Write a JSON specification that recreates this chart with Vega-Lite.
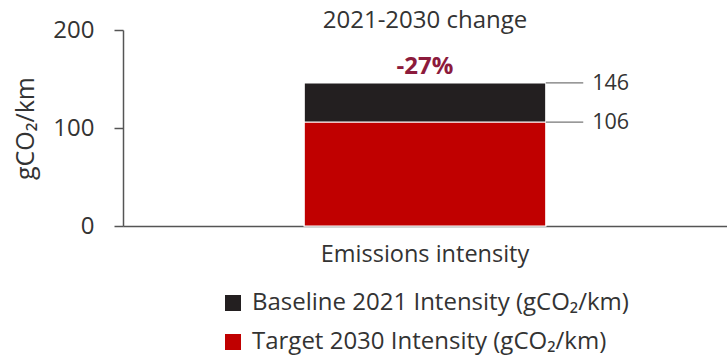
{
  "$schema": "https://vega.github.io/schema/vega-lite/v6.json",
  "width": 604,
  "height": 196,
  "autosize": {"type": "none"},
  "padding": {"left": 123, "top": 30, "right": 0, "bottom": 132},
  "background": "white",
  "config": {
    "font": "Open Sans",
    "view": {"stroke": null},
    "axis": {"grid": false, "labelColor": "#333333", "titleColor": "#333333", "labelFont": "Open Sans", "titleFont": "Open Sans"}
  },
  "title": {"text": "2021-2030 change", "fontSize": 24, "fontWeight": "normal", "color": "#333333", "anchor": "middle", "frame": "group", "offset": -15},
  "datasets": {
    "bars": [
      {"category": "Emissions intensity", "series": "Baseline 2021 Intensity (gCO₂/km)", "value": 146, "label": "146"},
      {"category": "Emissions intensity", "series": "Target 2030 Intensity (gCO₂/km)", "value": 106, "label": "106"}
    ],
    "change": [
      {"category": "Emissions intensity", "value": 146, "label": "-27%"}
    ]
  },
  "encoding": {
    "x": {
      "field": "category", "type": "nominal",
      "scale": {"paddingInner": 0, "paddingOuter": 0},
      "axis": {"title": null, "labelAngle": 0, "ticks": false, "labelFontSize": 23.5, "labelPadding": 16, "labelLimit": 400, "domainColor": "#555555", "domainWidth": 1.5}
    }
  },
  "layer": [
    {
      "data": {"name": "bars"},
      "mark": {"type": "bar", "width": {"band": 0.4}, "stroke": "white", "strokeWidth": 1.2},
      "encoding": {
        "y": {
          "field": "value", "type": "quantitative", "stack": null,
          "scale": {"domain": [0, 200]},
          "axis": {"values": [0, 100, 200], "title": "gCO₂/km", "titleFontSize": 25, "titleFontWeight": "normal", "titlePadding": 14, "labelFontSize": 24, "labelPadding": 20, "tickSize": 9, "tickColor": "#555555", "domainColor": "#555555", "domainWidth": 1.5, "tickWidth": 1.5}
        },
        "color": {
          "field": "series", "type": "nominal",
          "scale": {"domain": ["Baseline 2021 Intensity (gCO₂/km)", "Target 2030 Intensity (gCO₂/km)"], "range": ["#231F20", "#C00000"]},
          "legend": {"title": null, "orient": "none", "legendX": 98, "legendY": 261, "symbolType": "square", "symbolSize": 256, "symbolStrokeWidth": 0, "labelFontSize": 24, "labelColor": "#333333", "labelLimit": 600, "rowPadding": 15, "labelOffset": 7, "padding": 0}
        },
        "order": {"field": "value", "type": "quantitative", "sort": "descending"}
      }
    },
    {
      "data": {"name": "bars"},
      "mark": {"type": "rule", "color": "#777777", "strokeWidth": 1.2},
      "encoding": {
        "x": {"field": "category", "type": "nominal", "bandPosition": 0.7},
        "x2": {"field": "category", "bandPosition": 0.762},
        "y": {"field": "value", "type": "quantitative"}
      }
    },
    {
      "data": {"name": "bars"},
      "mark": {"type": "text", "align": "left", "baseline": "middle", "dx": 9, "dy": 1, "fontSize": 21.5, "color": "#333333"},
      "encoding": {
        "x": {"field": "category", "type": "nominal", "bandPosition": 0.762},
        "y": {"field": "value", "type": "quantitative"},
        "text": {"field": "label"}
      }
    },
    {
      "data": {"name": "change"},
      "mark": {"type": "text", "align": "center", "baseline": "alphabetic", "dy": -9, "fontSize": 24, "fontWeight": "bold", "color": "#8C1B3C"},
      "encoding": {
        "y": {"field": "value", "type": "quantitative"},
        "text": {"field": "label"}
      }
    }
  ]
}
